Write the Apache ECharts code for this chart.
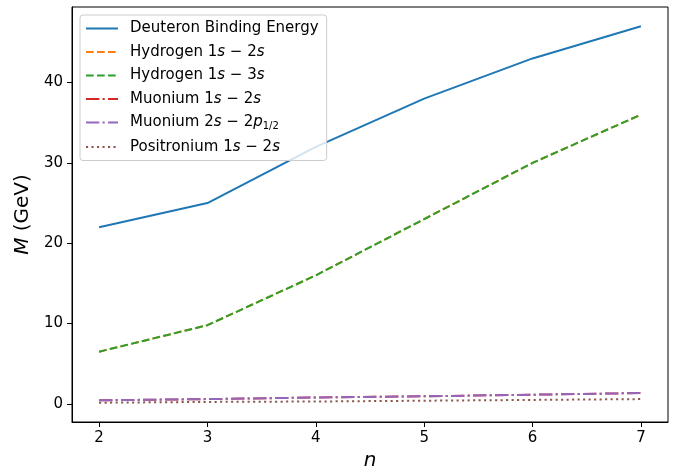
<!DOCTYPE html>
<html>
<head>
<meta charset="utf-8">
<script src="https://cdn.jsdelivr.net/npm/echarts@6/dist/echarts.min.js"></script>
<style>
  html, body { margin: 0; padding: 0; background: #fff; }
  #chart { width: 679px; height: 472px; }
</style>
</head>
<body>
<div id="chart"></div>
<script>
// n values
var nValues = [2, 3, 4, 5, 6, 7];
var xTicks = [2, 3, 4, 5, 6, 7];
var yTicks = [0, 10, 20, 30, 40];

// M (GeV) for each measurement
var deuteron = [22, 25, 32, 38, 43, 47];
var hydrogen12 = [6.5, 9.8, 16, 23, 30, 36];
var hydrogen13 = [6.5, 9.8, 16, 23, 30, 36];
var muonium12 = [0.45, 0.6, 0.8, 0.95, 1.15, 1.35];
var muonium22p = [0.45, 0.6, 0.8, 0.95, 1.15, 1.35];
var positronium = [0.15, 0.25, 0.3, 0.4, 0.5, 0.6];

var names = ['Deuteron Binding Energy', 'Hydrogen 1s-2s', 'Hydrogen 1s-3s',
             'Muonium 1s-2s', 'Muonium 2s-2p', 'Positronium 1s-2s'];
var labels = {
    'Deuteron Binding Energy': 'Deuteron Binding Energy',
    'Hydrogen 1s-2s': 'Hydrogen 1{i|s} − 2{i|s}',
    'Hydrogen 1s-3s': 'Hydrogen 1{i|s} − 3{i|s}',
    'Muonium 1s-2s': 'Muonium 1{i|s} − 2{i|s}',
    'Muonium 2s-2p': 'Muonium 2{i|s} − 2{i|p}{sub|1/2}',
    'Positronium 1s-2s': 'Positronium 1{i|s} − 2{i|s}'
};

var font = 'DejaVu Sans';
var lw = 2;

function pairs(ys) {
    var out = [];
    for (var i = 0; i < nValues.length; i++) {
        out.push([nValues[i], ys[i]]);
    }
    return out;
}

function line(name, ys, color, type) {
    return {
        name: name,
        type: 'line',
        data: pairs(ys),
        symbol: 'none',
        animation: false,
        lineStyle: { color: color, width: lw, type: type },
        itemStyle: { color: color }
    };
}

var myChart = echarts.init(document.getElementById('chart'));
var option = {
    backgroundColor: '#fff',
    grid: {
        left: 72, right: 11, top: 7, bottom: 50,
        outerBoundsMode: 'none',
        show: true, borderColor: '#000', borderWidth: 1, backgroundColor: 'transparent'
    },
    legend: {
        data: names,
        orient: 'vertical',
        left: 80, top: 15,
        itemWidth: 32, itemHeight: 14, itemGap: 8.5,
        padding: [6, 8, 6, 5],
        backgroundColor: 'rgba(255,255,255,0.8)',
        borderColor: '#ccc', borderWidth: 1, borderRadius: 3,
        itemStyle: { opacity: 0 },   // hide the marker, keep the line
        formatter: function (name) { return labels[name]; },
        textStyle: {
            fontFamily: font, fontSize: 15, color: '#000',
            padding: [0, 0, 0, 7],
            rich: {
                i: { fontFamily: font, fontSize: 15, fontStyle: 'italic', color: '#000' },
                sub: { fontFamily: font, fontSize: 10, color: '#000', verticalAlign: 'bottom', padding: [7, 0, 0, 0] }
            }
        }
    },
    xAxis: {
        type: 'value',
        min: 1.75, max: 7.25,
        name: 'n',
        nameLocation: 'middle',
        nameGap: 26,
        nameTextStyle: { fontFamily: font, fontSize: 20, fontStyle: 'italic', color: '#000' },
        axisLine: { show: true, onZero: false, lineStyle: { color: '#000', width: 1 } },
        axisTick: { show: true, length: 5, customValues: xTicks, lineStyle: { color: '#000' } },
        axisLabel: { customValues: xTicks, fontFamily: font, fontSize: 15, color: '#000', margin: 9 },
        splitLine: { show: false }
    },
    yAxis: {
        type: 'value',
        min: -2.25, max: 49.4,
        name: '{i|M} (GeV)',
        nameLocation: 'middle',
        nameRotate: 90,
        nameGap: 33,
        nameTextStyle: {
            fontFamily: font, fontSize: 20, color: '#000',
            rich: { i: { fontFamily: font, fontSize: 20, fontStyle: 'italic', color: '#000' } }
        },
        axisLine: { show: true, onZero: false, lineStyle: { color: '#000', width: 1 } },
        axisTick: { show: true, length: 5, customValues: yTicks, lineStyle: { color: '#000' } },
        axisLabel: { customValues: yTicks, fontFamily: font, fontSize: 15, color: '#000', margin: 9 },
        splitLine: { show: false }
    },
    series: [
        line(names[0], deuteron, '#1f77b4', 'solid'),
        line(names[1], hydrogen12, '#ff7f0e', [7.7, 3.3]),
        line(names[2], hydrogen13, '#2ca02c', [7.7, 3.3]),
        line(names[3], muonium12, '#d62728', [13.3, 3.3, 2.1, 3.3]),
        line(names[4], muonium22p, '#9467bd', [13.3, 3.3, 2.1, 3.3]),
        line(names[5], positronium, '#8c564b', [2.1, 3.4])
    ]
};
myChart.setOption(option);
</script>
</body>
</html>
